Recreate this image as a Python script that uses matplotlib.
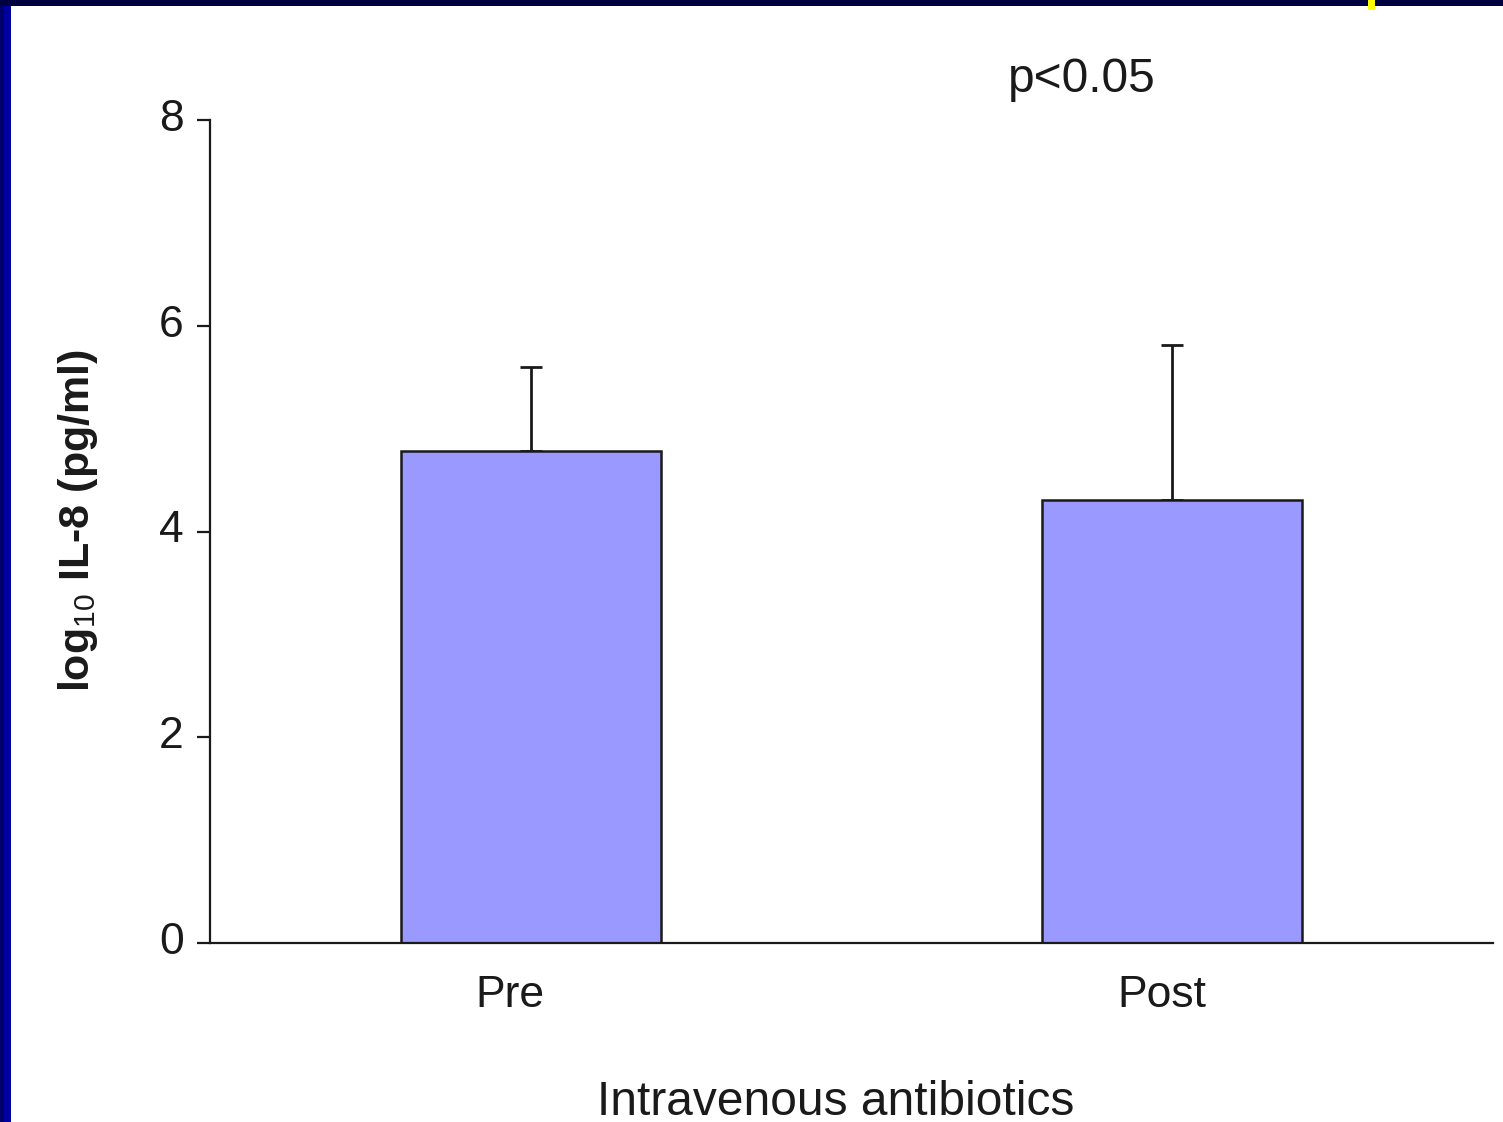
import matplotlib
matplotlib.use("Agg")
import matplotlib.pyplot as plt
import matplotlib.transforms as mtransforms
from matplotlib.patches import Rectangle

plt.rcParams['font.family'] = ['Liberation Sans', 'DejaVu Sans']
plt.rcParams['mathtext.fontset'] = 'custom'
plt.rcParams['mathtext.rm'] = 'Liberation Sans'
plt.rcParams['mathtext.it'] = 'Liberation Sans:italic'
plt.rcParams['mathtext.bf'] = 'Liberation Sans:bold'

# IL-8 before and after IV antibiotics (mean, upper error)
groups = ['Pre', 'Post']
means = [4.78, 4.31]
errors = [0.82, 1.50]
yticks = [0, 2, 4, 6, 8]

fig = plt.figure(figsize=(15.03, 11.22), dpi=100)
fig.patch.set_facecolor('white')

# slide frame: blue strip on the left, dark band on top, small yellow mark
fig.patches.append(Rectangle((0, 0), 11 / 1503, 1, transform=fig.transFigure,
                             facecolor='#0000a0', edgecolor='none', zorder=0))
fig.patches.append(Rectangle((0, 0), 4 / 1503, 1, transform=fig.transFigure,
                             facecolor='#00006a', edgecolor='none', zorder=0))
fig.patches.append(Rectangle((0, 1 - 6 / 1122), 1, 6 / 1122, transform=fig.transFigure,
                             facecolor='#000040', edgecolor='none', zorder=0))
fig.patches.append(Rectangle((1368 / 1503, 1 - 10 / 1122), 7 / 1503, 10 / 1122,
                             transform=fig.transFigure,
                             facecolor='#ffff00', edgecolor='none', zorder=1))

ax = fig.add_axes([210 / 1503, 179 / 1122, 1283 / 1503, 823 / 1122])
x = list(range(len(groups)))
ax.bar(x, means, width=0.405, color='#9999ff', edgecolor='#1a1a1a', linewidth=1.8,
       zorder=2)
ax.errorbar(x, means, yerr=[[0] * len(errors), errors], fmt='none', ecolor='#1a1a1a',
            elinewidth=2, capsize=8, capthick=2, zorder=1)

ax.set_xlim(-0.5, 1.5)
ax.set_ylim(0, 8)
ax.set_yticks(yticks)
ax.set_xticks(x)
ax.set_xticklabels(groups)

for side in ['top', 'right']:
    ax.spines[side].set_visible(False)
for side in ['left', 'bottom']:
    ax.spines[side].set_linewidth(1.6)
    ax.spines[side].set_color('#1a1a1a')

ax.tick_params(axis='y', length=9.5, width=1.6, pad=8, labelsize=32,
               colors='#1a1a1a')
ax.tick_params(axis='x', length=0, pad=23, labelsize=32, colors='#1a1a1a')

# small nudges for the category and value labels
for lab, dx in zip(ax.get_xticklabels(), [-21, -10]):
    lab.set_transform(lab.get_transform() +
                      mtransforms.ScaledTranslation(dx / 100, 0, fig.dpi_scale_trans))
for lab in ax.get_yticklabels():
    lab.set_transform(lab.get_transform() +
                      mtransforms.ScaledTranslation(-2 / 100, 5 / 100, fig.dpi_scale_trans))

ax.set_ylabel(r'log$_{10}$ IL-8 (pg/ml)', fontsize=31, fontweight='bold',
              color='#1a1a1a')
ax.yaxis.set_label_coords(-0.086, 0.514)
ax.set_xlabel('Intravenous antibiotics', fontsize=34.5, color='#1a1a1a')
ax.xaxis.set_label_coords(0.488, -0.166)

fig.text(1082 / 1503, 1 - 92 / 1122, 'p<0.05', fontsize=34.5, ha='center',
         va='baseline', color='#1a1a1a')

fig.savefig('out.png', dpi=100)
